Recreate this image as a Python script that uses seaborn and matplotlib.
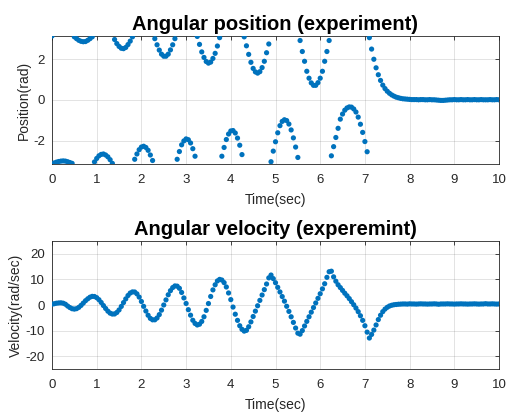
import numpy as np
import pandas as pd
import seaborn as sns
import matplotlib
matplotlib.use("Agg")
import matplotlib.pyplot as plt

time_sec = np.linspace(0, 10, 201)

position_rad = [
    3.14, -3.09, -3.05, -3.02, -3.00, -2.99, -3.00, -3.03, -3.07, -3.11,
    3.10, 3.01, 2.93, 2.88, 2.86, 2.87, 2.93, 3.01, 3.10, -3.04,
    -2.87, -2.74, -2.67, -2.65, -2.70, -2.79, -2.93, -3.11, 2.97, 2.77,
    2.63, 2.54, 2.52, 2.58, 2.72, 2.89, 3.10, -2.91, -2.65, -2.44,
    -2.31, -2.27, -2.33, -2.47, -2.70, -2.97, 3.01, 2.71, 2.45, 2.25,
    2.15, 2.15, 2.25, 2.46, 2.71, 3.01, -2.91, -2.53, -2.20, -2.01,
    -1.91, -1.95, -2.11, -2.39, -2.76, 3.12, 2.73, 2.36, 2.09, 1.89,
    1.81, 1.86, 2.04, 2.29, 2.65, 3.06, -2.76, -2.33, -1.94, -1.67,
    -1.52, -1.50, -1.62, -1.87, -2.22, -2.68, 3.10, 2.66, 2.24, 1.85,
    1.55, 1.38, 1.32, 1.39, 1.59, 1.90, 2.32, 2.75, -3.03, -2.51,
    -2.05, -1.61, -1.26, -1.05, -0.97, -1.01, -1.18, -1.47, -1.86, -2.31,
    -2.82, 2.92, 2.38, 1.90, 1.41, 1.07, 0.84, 0.72, 0.72, 0.85,
    1.07, 1.41, 1.90, 2.38, 2.92, -2.74, -2.29, -1.84, -1.39, -0.94,
    -0.69, -0.50, -0.39, -0.34, -0.35, -0.44, -0.59, -0.84, -1.19, -1.59,
    -2.04, -2.54, 3.06, 2.50, 2.00, 1.58, 1.24, 0.96, 0.73, 0.56,
    0.43, 0.33, 0.25, 0.19, 0.14, 0.11, 0.08, 0.06, 0.05, 0.04,
    0.03, 0.02, 0.02, 0.02, 0.01, 0.02, 0.02, 0.01, 0.01, 0.02,
    0.01, 0.01, 0.00, -0.01, -0.02, -0.02, -0.01, 0.00, 0.01, 0.01,
    0.02, 0.01, 0.01, 0.02, 0.01, 0.01, 0.02, 0.01, 0.01, 0.02,
    0.01, 0.01, 0.02, 0.01, 0.01, 0.01, 0.02, 0.01, 0.01, 0.02,
    0.01,
]

velocity_rad_s = [
    0.3, 0.5, 0.7, 0.8, 0.85, 0.7, 0.3, -0.4, -1.0, -1.45,
    -1.6, -1.43, -0.92, -0.15, 0.75, 1.68, 2.42, 3.05, 3.37, 3.32,
    2.86, 2.07, 0.99, -0.21, -1.36, -2.41, -3.18, -3.53, -3.50, -2.92,
    -1.93, -0.56, 0.94, 2.38, 3.70, 4.67, 5.11, 5.08, 4.35, 3.09,
    1.37, -0.53, -2.35, -4.01, -5.23, -5.79, -5.78, -5.07, -3.76, -2.01,
    0.0, 2.0, 4.0, 5.6, 6.8, 7.45, 7.36, 6.53, 4.9, 2.76,
    0.6, -1.83, -3.98, -5.96, -7.2, -7.8, -7.5, -6.43, -4.6, -2.1,
    0.57, 3.33, 5.9, 7.9, 9.4, 10.0, 9.75, 8.74, 7.04, 4.7,
    2.1, -0.8, -3.6, -6.0, -8.1, -9.5, -10.2, -9.9, -8.5, -6.6,
    -4.5, -2.4, -0.3, 1.8, 3.9, 6.0, 8.2, 10.6, 11.7, 10.3,
    8.7, 6.9, 5.1, 3.3, 1.5, -0.5, -2.5, -4.6, -6.8, -9.0,
    -11.0, -11.4, -10.0, -8.2, -6.4, -4.6, -2.8, -1.0, 0.8, 2.6,
    4.4, 6.3, 8.3, 10.8, 13.0, 13.2, 11.0, 9.3, 7.9, 6.8,
    5.7, 4.6, 3.6, 2.5, 1.3, 0.1, -1.2, -2.6, -4.2, -6.0,
    -8.1, -10.6, -12.9, -11.5, -9.8, -7.8, -5.7, -4.0, -2.6, -1.6,
    -0.9, -0.4, -0.1, 0.1, 0.2, 0.3, 0.35, 0.4, 0.4, 0.35,
    0.45, 0.4, 0.4, 0.35, 0.4, 0.45, 0.4, 0.4, 0.35, 0.4,
    0.4, 0.45, 0.4, 0.3, 0.4, 0.4, 0.4, 0.45, 0.4, 0.4,
    0.35, 0.4, 0.4, 0.45, 0.4, 0.4, 0.35, 0.4, 0.4, 0.45,
    0.4, 0.35, 0.4, 0.4, 0.5, 0.4, 0.4, 0.45, 0.4, 0.35,
    0.4,
]

x_ticks = [0, 1, 2, 3, 4, 5, 6, 7, 8, 9, 10]
pos_ticks = [-2, 0, 2]
vel_ticks = [-20, -10, 0, 10, 20]

titles = ["Angular position (experiment)", "Angular velocity (experemint)"]
ylabels = ["Position(rad)", "Velocity(rad/sec)"]
xlabel = "Time(sec)"

# ---- style ----
sns.set_style("white")
plt.rcParams["font.family"] = ["Liberation Sans", "DejaVu Sans"]

dark = "#262626"
blue = "#0072BD"

df = pd.DataFrame({"t": time_sec, "pos": position_rad, "vel": velocity_rad_s})

fig = plt.figure(figsize=(5.07, 4.16), dpi=100)
ax1 = fig.add_axes([52 / 507, 1 - 164 / 416, 447 / 507, 128 / 416])
ax2 = fig.add_axes([52 / 507, 1 - 369 / 416, 447 / 507, 128 / 416])

sns.scatterplot(data=df, x="t", y="pos", ax=ax1, s=14, color=blue,
                edgecolor="none", linewidth=0, zorder=3)
sns.scatterplot(data=df, x="t", y="vel", ax=ax2, s=14, color=blue,
                edgecolor="none", linewidth=0, zorder=3)

for ax, yt, ylim, title, ylab in [
    (ax1, pos_ticks, (-np.pi, np.pi), titles[0], ylabels[0]),
    (ax2, vel_ticks, (-25, 25), titles[1], ylabels[1]),
]:
    ax.set_xlim(0, 10)
    ax.set_ylim(*ylim)
    ax.set_xticks(x_ticks)
    ax.set_yticks(yt)
    ax.set_xticklabels([str(v) for v in x_ticks])
    ax.set_yticklabels([str(v) for v in yt])
    ax.grid(True, color=dark, alpha=0.15, linewidth=0.6)
    ax.set_axisbelow(True)
    for sp in ax.spines.values():
        sp.set_visible(True)
        sp.set_color(dark)
        sp.set_linewidth(0.6)
    ax.tick_params(direction="in", length=3, width=0.6, colors=dark,
                   labelsize=9.5, top=True, right=True)
    ax.tick_params(axis="x", pad=7)
    ax.tick_params(axis="y", pad=5)
    ax.set_title(title, fontsize=14.5, fontweight="bold", color="black", pad=4)
    ax.set_xlabel(xlabel, fontsize=10, color=dark, labelpad=5)
    ax.set_ylabel(ylab, fontsize=10, color=dark, labelpad=2)

fig.savefig("out.png", dpi=100)
